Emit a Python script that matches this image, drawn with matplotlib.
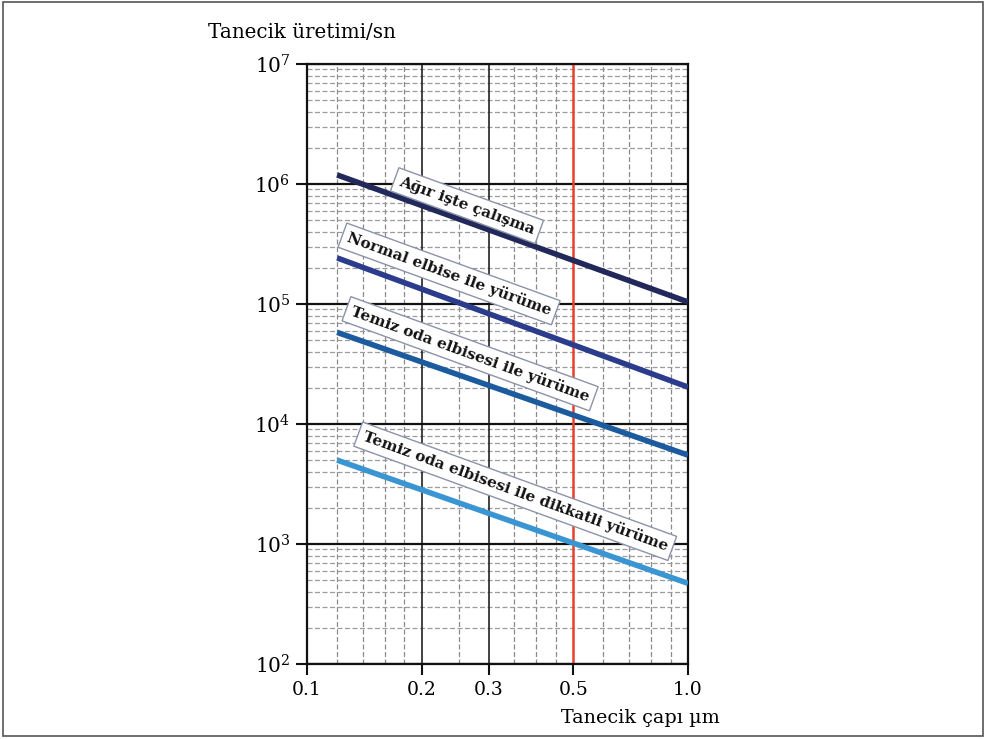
import matplotlib
matplotlib.use("Agg")
import matplotlib.pyplot as plt
from matplotlib.patches import Rectangle
import numpy as np

# ---- data ----
x_ends = [0.12, 1.0]
series_names = ["Ağır işte çalışma",
                "Normal elbise ile yürüme",
                "Temiz oda elbisesi ile yürüme",
                "Temiz oda elbisesi ile dikkatli yürüme"]
agir = [1.19e6, 1.04e5]
normal = [2.42e5, 2.03e4]
temiz = [5.8e4, 5.5e3]
dikkatli = [5.0e3, 4.7e2]
series_values = [agir, normal, temiz, dikkatli]
x_major = [0.1, 0.2, 0.3, 0.5, 1.0]
x_major_labels = ["0.1", "0.2", "0.3", "0.5", "1.0"]
x_minor = [0.12, 0.14, 0.16, 0.18, 0.25, 0.35, 0.4, 0.45, 0.6, 0.7, 0.8, 0.9]
marker_x = 0.5

# ---- style ----
colors = ["#22285a", "#2b3c8c", "#1c5b9e", "#3a96d2"]
label_pos = [(0.263, 6.6e5), (0.236, 1.78e5), (0.268, 3.85e4), (0.352, 2.75e3)]
rot = -20

plt.rcParams["mathtext.fontset"] = "dejavuserif"
serif = ["DejaVu Serif"]

fig = plt.figure(figsize=(9.87, 7.39), dpi=100)
ax = fig.add_axes([307/987, 1-664/739, 381/987, 600/739])
ax.set_xscale("log")
ax.set_yscale("log")
ax.set_xlim(0.1, 1.0)
ax.set_ylim(1e2, 1e7)

# grid
for v in x_minor:
    ax.axvline(v, color="#8a8a8a", lw=0.9, ls=(0, (4, 2)), zorder=1)
for d in range(2, 7):
    for m in range(2, 10):
        ax.axhline(m * 10**d, color="#9c9c9c", lw=0.9, ls=(0, (4, 2)), zorder=1)
for v in x_major:
    if v != marker_x:
        ax.axvline(v, color="#222222", lw=1.2, zorder=1.5)
for d in range(2, 8):
    ax.axhline(10**d, color="#111111", lw=1.6, zorder=1.5)
ax.axvline(marker_x, color="#e8402a", lw=1.8, zorder=2)

for vals, c in zip(series_values, colors):
    ax.plot(x_ends, vals, color=c, lw=4, solid_capstyle="butt", zorder=3)

for name, (px, py) in zip(series_names, label_pos):
    ax.text(px, py, name, rotation=rot, rotation_mode="anchor", ha="center", va="center",
            fontsize=11, fontweight="bold", family=serif, color="#111111", zorder=4,
            bbox=dict(boxstyle="square,pad=0.35", fc="white", ec="#8a93a8", lw=1.0))

ax.set_xticks(x_major)
ax.set_xticklabels(x_major_labels, family=serif, fontsize=13.5)
ax.set_xticks([], minor=True)
ax.set_yticks([10**d for d in range(2, 8)])
ax.set_yticklabels([r"$10^{%d}$" % d for d in range(2, 8)], fontsize=14.5)
ax.set_yticks([], minor=True)
ax.tick_params(axis="both", which="major", length=8, width=1.5, direction="out", color="#111111", pad=4)
for s in ax.spines.values():
    s.set_linewidth(1.6)
    s.set_color("#111111")

fig.text(208/987, 1-32/739, "Tanecik üretimi/sn", family=serif, fontsize=14.3, ha="left", va="center")
fig.text(720/987, 1-718/739, "Tanecik çapı µm", family=serif, fontsize=13.8, ha="right", va="center")

fig.add_artist(Rectangle((3/987, 3/739), 980/987, 734/739, transform=fig.transFigure,
                         fill=False, ec="#555555", lw=1.2))

fig.savefig("out.png", dpi=100)
